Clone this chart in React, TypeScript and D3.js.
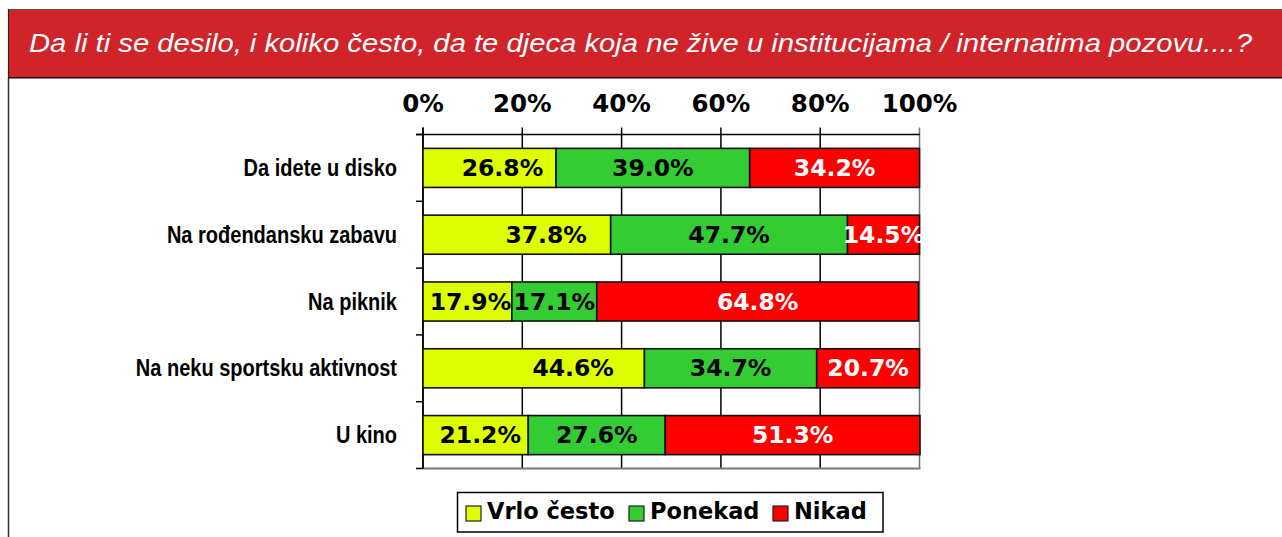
import React from "react";
import * as d3 from "d3";

const title =
  "Da li ti se desilo, i koliko često, da te djeca koja ne žive u institucijama / internatima pozovu....?";
const categories = [
  "Da idete u disko",
  "Na rođendansku zabavu",
  "Na piknik",
  "Na neku sportsku aktivnost",
  "U kino",
];
const seriesNames = ["Vrlo često", "Ponekad", "Nikad"];
const vrloCesto = [26.8, 37.8, 17.9, 44.6, 21.2];
const ponekad = [39.0, 47.7, 17.1, 34.7, 27.6];
const nikad = [34.2, 14.5, 64.8, 20.7, 51.3];
const tickValues = [0, 20, 40, 60, 80, 100];
const colors = ["#DDFF00", "#33CC33", "#FF0000"];
const labelColors = ["#000", "#000", "#fff"];

export default function App() {
  const W = 1282;
  const H = 537;
  const x = d3.scaleLinear().domain([0, 100]).range([423, 919.5]);
  const y = d3.scaleBand<string>().domain(categories).range([134.5, 468.5]).padding(0);
  const barH = y.bandwidth() * 0.585;

  const rows = categories.map((c, i) => ({
    cat: c,
    vrlo: vrloCesto[i],
    pon: ponekad[i],
    nik: nikad[i],
  }));
  const stack = d3.stack<any>().keys(["vrlo", "pon", "nik"])(rows);

  const valueFont = "'DejaVu Sans', Verdana, sans-serif";

  return (
    <svg
      width={W}
      height={H}
      style={{ position: "absolute", left: 0, top: 0, background: "#fff" }}
    >
      {/* frame */}
      <line x1={8.5} x2={8.5} y1={78} y2={H} stroke="#333" strokeWidth={1.5} />
      <rect x={8} y={9} width={W} height={69} fill="#D0232A" />
      <line x1={8} x2={W} y1={9.5} y2={9.5} stroke="#555" strokeWidth={1.2} />
      <line x1={8} x2={W} y1={77.8} y2={77.8} stroke="#111" strokeWidth={1.6} />
      <line x1={8.5} x2={8.5} y1={9} y2={78} stroke="#222" strokeWidth={1.2} />
      <text
        x={29}
        y={52}
        fill="#fff"
        fontFamily="'Liberation Sans', Arial, sans-serif"
        fontStyle="italic"
        fontSize={26}
        textLength={1223}
        lengthAdjust="spacingAndGlyphs"
      >
        {title}
      </text>

      {/* gridlines */}
      {tickValues.map((t) => (
        <line
          key={"g" + t}
          x1={x(t)}
          x2={x(t)}
          y1={127.5}
          y2={468.5}
          stroke={t === 100 ? "#707878" : "#000"}
          strokeWidth={1.5}
        />
      ))}
      {/* top axis */}
      <line x1={416} x2={920} y1={134.5} y2={134.5} stroke="#000" strokeWidth={1.5} />
      {/* bottom edge */}
      <line x1={423} x2={920.5} y1={468.5} y2={468.5} stroke="#707878" strokeWidth={2} />
      {/* left axis */}
      <line x1={423} x2={423} y1={127.5} y2={469} stroke="#000" strokeWidth={1.5} />
      {d3.range(categories.length + 1).map((i) => {
        const yy = 134.5 + i * y.step();
        return <line key={"yt" + i} x1={416} x2={423} y1={yy} y2={yy} stroke="#000" strokeWidth={1.5} />;
      })}
      {tickValues.map((t) => (
        <text
          key={"tl" + t}
          x={x(t)}
          y={112}
          textAnchor="middle"
          fontFamily={valueFont}
          fontWeight="bold"
          fontSize={24.5}
          fill="#000"
        >
          {t + "%"}
        </text>
      ))}

      {/* category labels */}
      {categories.map((c) => {
        const cy = (y(c) as number) + y.bandwidth() / 2;
        return (
          <text
            key={"c" + c}
            transform={`translate(397,${cy + 8}) scale(0.87,1)`}
            textAnchor="end"
            fontFamily="'Liberation Sans', Arial, sans-serif"
            fontWeight="bold"
            fontSize={23}
            fill="#000"
          >
            {c}
          </text>
        );
      })}

      {/* bars */}
      {stack.map((s, si) =>
        s.map((d, i) => {
          const cat = categories[i];
          const cy = (y(cat) as number) + y.bandwidth() / 2;
          const x0 = x(d[0]);
          const x1 = x(d[1]);
          const w = x1 - x0;
          const val = (d[1] - d[0]).toFixed(1) + "%";
          const off = si === 0 ? Math.max(3, Math.min(40, 0.3 * (w - 90))) : 0;
          return (
            <g key={"b" + si + "-" + i}>
              <rect
                x={x0}
                y={cy - barH / 2}
                width={w}
                height={barH}
                fill={colors[si]}
                stroke="#111"
                strokeWidth={1.6}
              />
              <text
                x={(x0 + x1) / 2 + off}
                y={cy + 8}
                textAnchor="middle"
                fontFamily={valueFont}
                fontWeight="bold"
                fontSize={23.5}
                fill={labelColors[si]}
              >
                {val}
              </text>
            </g>
          );
        })
      )}

      {/* legend */}
      <rect x={457.5} y={492.5} width={425.5} height={39.5} fill="#fff" stroke="#000" strokeWidth={1.5} />
      {(() => {
        const starts = [466, 629, 773];
        return seriesNames.map((n, i) => (
          <g key={"l" + n}>
            <rect x={starts[i]} y={506} width={15} height={15} fill={colors[i]} stroke="#222" strokeWidth={1.2} />
            <text
              x={starts[i] + 21}
              y={519}
              fontFamily={valueFont}
              fontWeight="bold"
              fontSize={22.5}
              fill="#000"
            >
              {n}
            </text>
          </g>
        ));
      })()}
    </svg>
  );
}
